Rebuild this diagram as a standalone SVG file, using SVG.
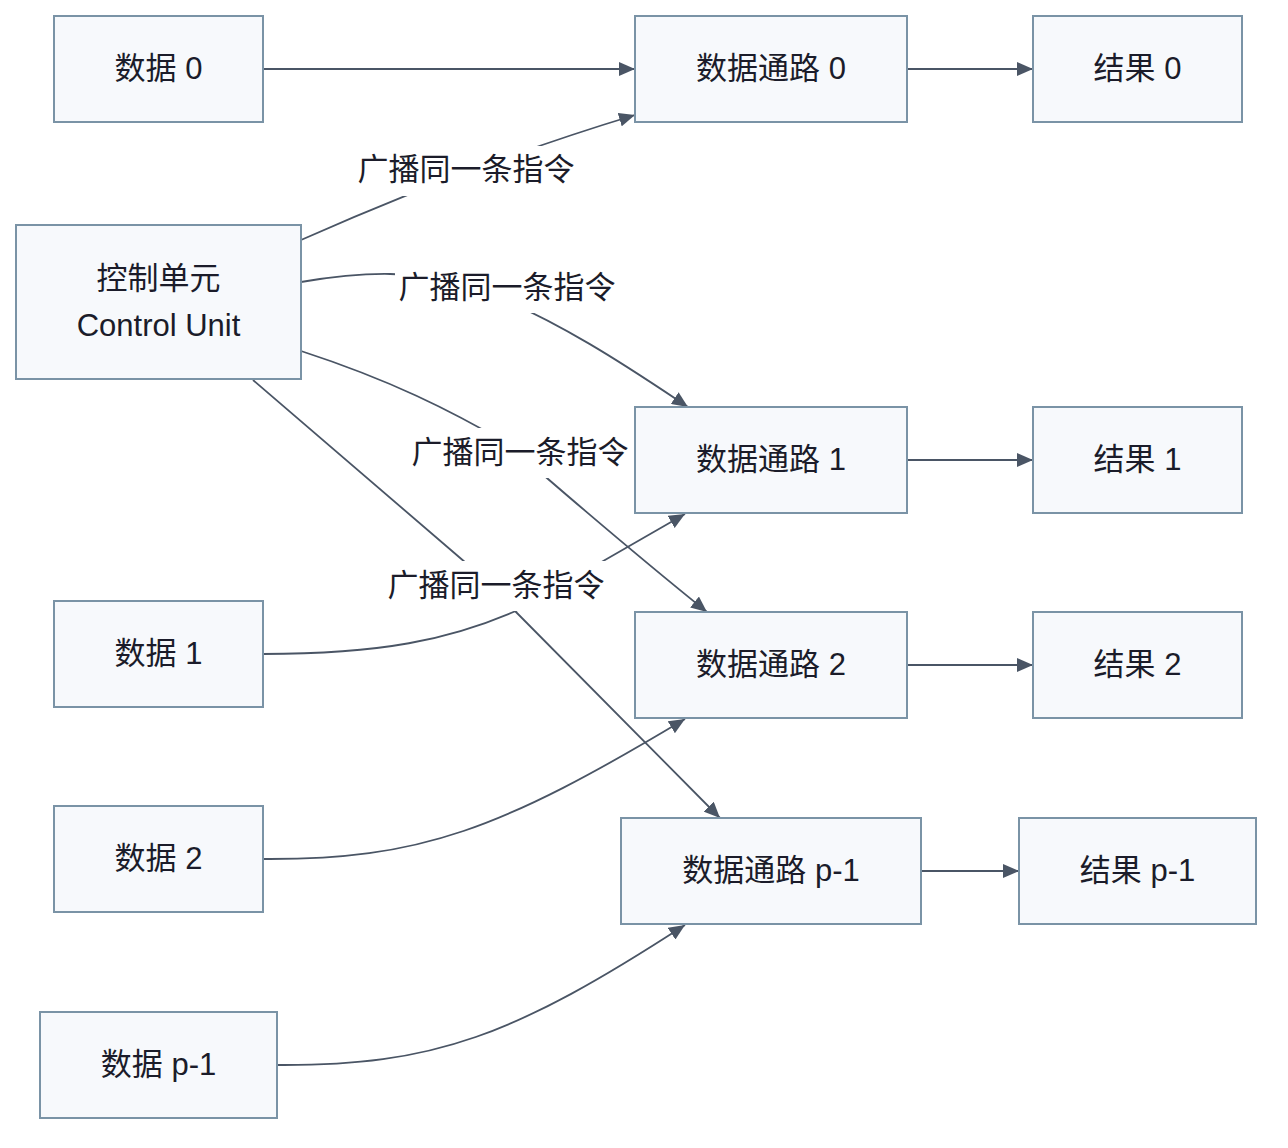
<svg xmlns="http://www.w3.org/2000/svg" width="1288" height="1148" viewBox="0 0 1288 1148">
<style>
.node rect{fill:#f7f9fc;stroke:#7a93a6;stroke-width:2}
text{font-family:"Liberation Sans","Noto Sans CJK SC",sans-serif;font-size:31px;fill:#1b1c2a;text-anchor:middle}
.edge{fill:none;stroke:#4a5565;stroke-width:1.8}
.lbl rect{fill:#ffffff;stroke:none}
</style>
<defs>
<marker id="arr" viewBox="0 0 10 10" refX="10" refY="5" markerUnits="userSpaceOnUse" markerWidth="16" markerHeight="14" preserveAspectRatio="none" orient="auto">
<path d="M0,0 L10,5 L0,10 z" fill="#4a5565"/>
</marker>
</defs>
<rect width="1288" height="1148" fill="#ffffff"/>
<g id="connectors">
<path class="edge" d="M263,69 L635,69" marker-end="url(#arr)"/>
<path class="edge" d="M907,69 L1033,69" marker-end="url(#arr)"/>
<path class="edge" d="M907,460 L1033,460" marker-end="url(#arr)"/>
<path class="edge" d="M907,665 L1033,665" marker-end="url(#arr)"/>
<path class="edge" d="M921,871 L1019,871" marker-end="url(#arr)"/>
<path class="edge" d="M301,240 Q470,165 635,115" marker-end="url(#arr)"/>
<path class="edge" d="M301,282 C360,272 420,268 480,290 C560,320 640,375 688,407" marker-end="url(#arr)"/>
<path class="edge" d="M301,351 C390,380 450,410 510,445 C525,460 630,550 707,612" marker-end="url(#arr)"/>
<path class="edge" d="M253,380 L466,563 Q490,586 515,611 L720,818" marker-end="url(#arr)"/>
<path class="edge" d="M263,654 C380,654 450,640 518,610 L685,514" marker-end="url(#arr)"/>
<path class="edge" d="M263,859 C420,860 500,830 685,719" marker-end="url(#arr)"/>
<path class="edge" d="M277,1065 C434,1066 514,1036 685,925" marker-end="url(#arr)"/>
<g class="lbl">
<rect x="352" y="146" width="228" height="50"/>
<text x="466" y="180">广播同一条指令</text>
<rect x="395" y="263" width="224" height="50"/>
<text x="507" y="298">广播同一条指令</text>
<rect x="408" y="428" width="224" height="50"/>
<text x="520" y="463">广播同一条指令</text>
<rect x="383" y="561" width="226" height="50"/>
<text x="496" y="596">广播同一条指令</text>
</g>
</g>
<g id="d0" class="node"><rect x="54" y="16" width="209" height="106"/><text x="158.5" y="79">数据 0</text></g>
<g id="dp0" class="node"><rect x="635" y="16" width="272" height="106"/><text x="771" y="79">数据通路 0</text></g>
<g id="r0" class="node"><rect x="1033" y="16" width="209" height="106"/><text x="1137.5" y="79">结果 0</text></g>
<g id="cu" class="node"><rect x="16" y="225" width="285" height="154"/><text x="158.5" y="289">控制单元</text><text x="158.5" y="336">Control Unit</text></g>
<g id="dp1" class="node"><rect x="635" y="407" width="272" height="106"/><text x="771" y="470">数据通路 1</text></g>
<g id="r1" class="node"><rect x="1033" y="407" width="209" height="106"/><text x="1137.5" y="470">结果 1</text></g>
<g id="d1" class="node"><rect x="54" y="601" width="209" height="106"/><text x="158.5" y="664">数据 1</text></g>
<g id="dp2" class="node"><rect x="635" y="612" width="272" height="106"/><text x="771" y="675">数据通路 2</text></g>
<g id="r2" class="node"><rect x="1033" y="612" width="209" height="106"/><text x="1137.5" y="675">结果 2</text></g>
<g id="d2" class="node"><rect x="54" y="806" width="209" height="106"/><text x="158.5" y="869">数据 2</text></g>
<g id="dpp" class="node"><rect x="621" y="818" width="300" height="106"/><text x="771" y="881">数据通路 p-1</text></g>
<g id="rp" class="node"><rect x="1019" y="818" width="237" height="106"/><text x="1137.5" y="881">结果 p-1</text></g>
<g id="dp" class="node"><rect x="40" y="1012" width="237" height="106"/><text x="158.5" y="1075">数据 p-1</text></g>
</svg>
